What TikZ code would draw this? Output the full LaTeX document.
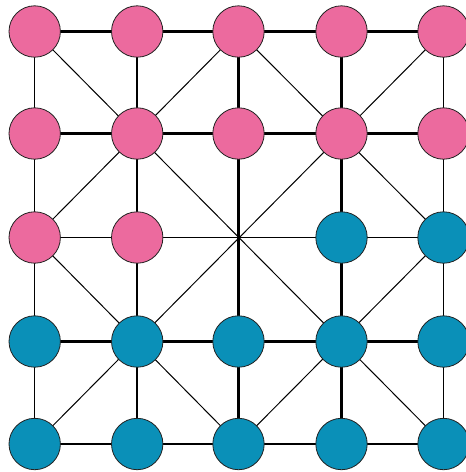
\documentclass[tikz,border=0pt]{standalone}
\usetikzlibrary{backgrounds}
\definecolor{pinkc}{HTML}{EC6A9E}
\definecolor{bluec}{HTML}{0A90B8}
\definecolor{rimc}{HTML}{222222}
\tikzset{
  piece/.style={circle,draw=rimc,line width=0.8pt,minimum size=51.4pt,inner sep=0pt},
  pinkpiece/.style={piece,fill=pinkc},
  bluepiece/.style={piece,fill=bluec},
  heavy/.style={line width=2.3pt,black},
  light/.style={line width=1pt,black}
}
\begin{document}
\begin{tikzpicture}[x=1pt,y=-1pt]
\useasboundingbox (0,0) rectangle (466,472);
% row 0
\node[pinkpiece] (n00) at (34.7,31.5) {};
\node[pinkpiece] (n01) at (137.2,31.5) {};
\node[pinkpiece] (n02) at (238.5,31.5) {};
\node[pinkpiece] (n03) at (341.5,31.5) {};
\node[pinkpiece] (n04) at (443.5,31.5) {};
% row 1
\node[pinkpiece] (n10) at (34.7,133.5) {};
\node[pinkpiece] (n11) at (137.2,133.5) {};
\node[pinkpiece] (n12) at (238.5,133.5) {};
\node[pinkpiece] (n13) at (341.5,133.5) {};
\node[pinkpiece] (n14) at (443.5,133.5) {};
% row 2
\node[pinkpiece] (n20) at (34.7,237.5) {};
\node[pinkpiece] (n21) at (137.2,237.5) {};
\coordinate (n22) at (238.5,237.5);
\node[bluepiece] (n23) at (341.5,237.5) {};
\node[bluepiece] (n24) at (443.5,237.5) {};
% row 3
\node[bluepiece] (n30) at (34.7,341.5) {};
\node[bluepiece] (n31) at (137.2,341.5) {};
\node[bluepiece] (n32) at (238.5,341.5) {};
\node[bluepiece] (n33) at (341.5,341.5) {};
\node[bluepiece] (n34) at (443.5,341.5) {};
% row 4
\node[bluepiece] (n40) at (34.7,444) {};
\node[bluepiece] (n41) at (137.2,444) {};
\node[bluepiece] (n42) at (238.5,444) {};
\node[bluepiece] (n43) at (341.5,444) {};
\node[bluepiece] (n44) at (443.5,444) {};
\begin{scope}[on background layer]
  % horizontal lines
  \draw[heavy] (n00.center) -- (n04.center);
  \draw[heavy] (n10.center) -- (n14.center);
  \draw[light] (n20.center) -- (n24.center);
  \draw[heavy] (n30.center) -- (n34.center);
  \draw[heavy] (n40.center) -- (n44.center);
  % vertical lines
  \draw[light] (n00.center) -- (n40.center);
  \draw[heavy] (n01.center) -- (n41.center);
  \draw[heavy] (n02.center) -- (n42.center);
  \draw[heavy] (n03.center) -- (n43.center);
  \draw[light] (n04.center) -- (n44.center);
  % diagonals
  \draw[light] (n00.center) -- (n44.center);
  \draw[light] (n04.center) -- (n40.center);
  \draw[light] (n20.center) -- (n02.center) -- (n24.center) -- (n42.center) -- cycle;
\end{scope}
\end{tikzpicture}
\end{document}
